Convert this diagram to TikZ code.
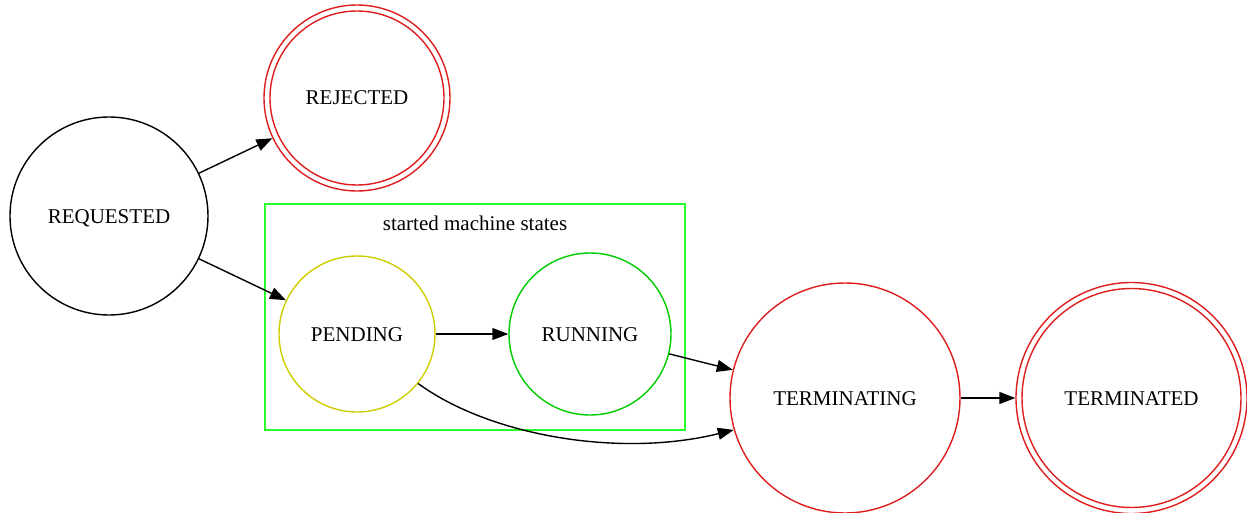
\documentclass[tikz,border=0pt]{standalone}
\usepackage{fontspec}
\setmainfont{Liberation Serif}
\usetikzlibrary{arrows.meta}
\definecolor{gvred}{RGB}{222,30,30}
\definecolor{gvyellow}{RGB}{205,205,0}
\definecolor{gvgreen}{RGB}{0,205,0}
\definecolor{gvlgreen}{RGB}{40,255,40}
\tikzset{
  state/.style={circle, draw, line width=1.4pt, inner sep=0pt, text height=14pt, text depth=0pt, font=\fontsize{21}{25}\selectfont},
  edge/.style={line width=1.4pt, -{Triangle[length=16pt,width=12pt]}},
  cluster/.style={draw=gvlgreen, line width=1.3pt},
}
\begin{document}
\begin{tikzpicture}[x=1pt,y=-1pt]
\useasboundingbox (0,0) rectangle (1247,513);
\draw[cluster] (265,204) rectangle (685,430);
\node[font=\fontsize{21}{25}\selectfont] (clabel) at (475,223) {started machine states};
\node[state, minimum size=198pt] (req) at (109,216) {REQUESTED};
\node[state, draw=gvred, minimum size=186pt] (rej) at (357,98) {REJECTED};
\draw[gvred, line width=1.4pt] (rej.center) circle (87pt);
\node[state, draw=gvyellow, minimum size=156pt] (pend) at (357,334) {PENDING};
\node[state, draw=gvgreen, minimum size=162pt] (run) at (590,334) {RUNNING};
\node[state, draw=gvred, minimum size=230pt] (term) at (845,398) {TERMINATING};
\node[state, draw=gvred, minimum size=231pt] (termd) at (1131.5,398) {TERMINATED};
\draw[gvred, line width=1.4pt] (termd.center) circle (109.5pt);
\draw[edge] (req) -- (rej);
\draw[edge] (req) -- (pend);
\draw[edge] (pend) -- (run);
\draw[edge] (run) -- (term);
\draw[edge] (pend.-39) .. controls (490,436) and (620,458) .. (term.196);
\draw[edge] (term) -- (termd);
\end{tikzpicture}
\end{document}
